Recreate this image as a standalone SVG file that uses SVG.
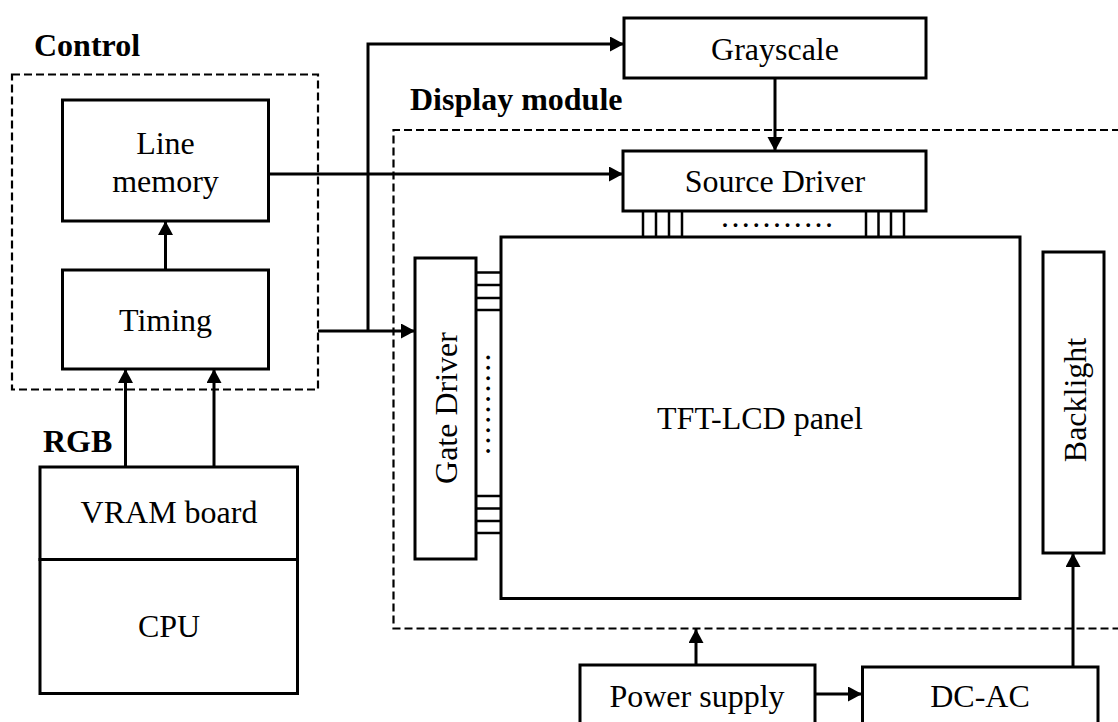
<svg xmlns="http://www.w3.org/2000/svg" width="1118" height="722" viewBox="0 0 1118 722">
<style>
.box{fill:#fff;stroke:#000;stroke-width:3}
.dash{fill:none;stroke:#000;stroke-width:2.2;stroke-dasharray:8 4}
.ln{fill:none;stroke:#000;stroke-width:3}
.pin{fill:none;stroke:#000;stroke-width:2.5}
.t{font-family:"Liberation Serif","Times New Roman",serif;font-size:32px;fill:#000;text-anchor:middle}
.b{font-family:"Liberation Serif","Times New Roman",serif;font-size:32px;font-weight:bold;fill:#000}
.dots{font-family:"Liberation Serif","Times New Roman",serif;font-size:32px;fill:#000;letter-spacing:2.4px}
</style>
<defs>
<marker id="arr" markerUnits="userSpaceOnUse" markerWidth="16" markerHeight="16" refX="14" refY="7.5" orient="auto">
<path d="M0,0 L14,7.5 L0,15 Z" fill="#000"/>
</marker>
</defs>
<rect width="1118" height="722" fill="#fff"/>

<g id="labels">
<text class="b" x="34" y="56">Control</text>
<text class="b" x="410" y="110">Display module</text>
<text class="b" x="43" y="452">RGB</text>
</g>

<g id="control-group"><rect class="dash" x="12" y="74.5" width="306" height="315"/></g>
<g id="display-module-group"><path class="dash" d="M1120,130 H393.5 V628.5 H1120"/></g>

<g id="connectors">
<line class="ln" x1="269" y1="174" x2="623" y2="174" marker-end="url(#arr)"/>
<line class="ln" x1="318" y1="331" x2="415" y2="331" marker-end="url(#arr)"/>
<polyline class="ln" points="368,331 368,44 624,44" marker-end="url(#arr)"/>
<line class="ln" x1="775" y1="78" x2="775" y2="151" marker-end="url(#arr)"/>
<line class="ln" x1="165.5" y1="270" x2="165.5" y2="221" marker-end="url(#arr)"/>
<line class="ln" x1="125.5" y1="467" x2="125.5" y2="369" marker-end="url(#arr)"/>
<line class="ln" x1="214" y1="467" x2="214" y2="369" marker-end="url(#arr)"/>
<line class="ln" x1="696" y1="665" x2="696" y2="629" marker-end="url(#arr)"/>
<line class="ln" x1="815" y1="694" x2="862" y2="694" marker-end="url(#arr)"/>
<line class="ln" x1="1073" y1="667" x2="1073" y2="553" marker-end="url(#arr)"/>
</g>

<g id="line-memory">
<rect class="box" x="62.5" y="100" width="206" height="121"/>
<text class="t" x="165.5" y="154">Line</text>
<text class="t" x="165.5" y="192">memory</text>
</g>
<g id="timing">
<rect class="box" x="62.5" y="270" width="206" height="99"/>
<text class="t" x="165.5" y="331">Timing</text>
</g>
<g id="vram-board">
<rect class="box" x="40" y="467" width="257.5" height="92.5"/>
<text class="t" x="169" y="523">VRAM board</text>
</g>
<g id="cpu">
<rect class="box" x="40" y="559.5" width="257.5" height="134"/>
<text class="t" x="169" y="637">CPU</text>
</g>
<g id="grayscale">
<rect class="box" x="624" y="18" width="302" height="60"/>
<text class="t" x="775" y="60">Grayscale</text>
</g>
<g id="source-driver">
<rect class="box" x="623" y="151" width="303" height="60"/>
<text class="t" x="775" y="192">Source Driver</text>
<path class="pin" d="M643,211V237M656,211V237M669,211V237M682,211V237M866,211V237M878.5,211V237M891,211V237M904,211V237"/>
<text class="dots" x="721" y="227">...........</text>
</g>
<g id="gate-driver">
<rect class="box" x="415" y="258" width="61" height="301"/>
<text class="t" transform="translate(457,408) rotate(-90)">Gate Driver</text>
<path class="pin" d="M476,272.5H501M476,285H501M476,298H501M476,310H501M476,496H501M476,508.5H501M476,521H501M476,533H501"/>
<text class="dots" transform="translate(490,455) rotate(-90)">..........</text>
</g>
<g id="tft-lcd-panel">
<rect class="box" x="501" y="237" width="519" height="361.5"/>
<text class="t" x="760" y="429">TFT-LCD panel</text>
</g>
<g id="backlight">
<rect class="box" x="1043" y="252" width="61" height="301"/>
<text class="t" transform="translate(1086,400) rotate(-90)">Backlight</text>
</g>
<g id="power-supply">
<rect class="box" x="580" y="665" width="235" height="70"/>
<text class="t" x="697" y="707">Power supply</text>
</g>
<g id="dc-ac">
<rect class="box" x="862.5" y="667" width="235.5" height="70"/>
<text class="t" x="980" y="707">DC-AC</text>
</g>
</svg>
